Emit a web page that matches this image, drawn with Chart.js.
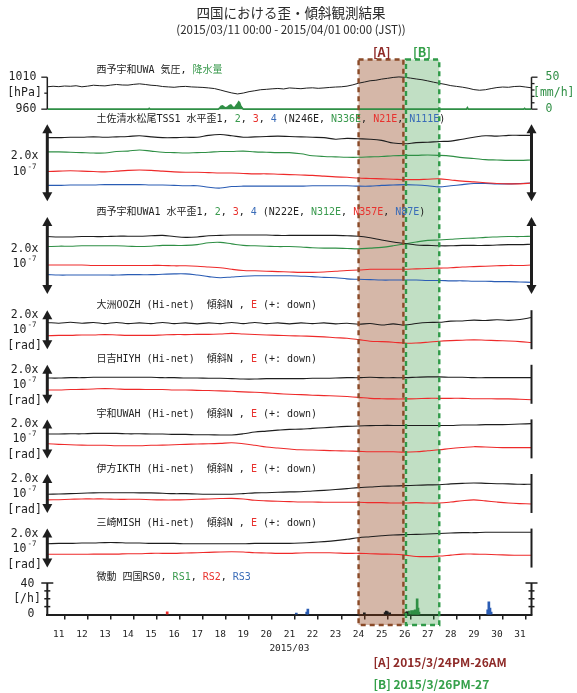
<!DOCTYPE html>
<html lang="ja">
<head>
<meta charset="utf-8">
<title>四国における歪・傾斜観測結果</title>
<script src="https://cdn.jsdelivr.net/npm/chart.js@4.4.1/dist/chart.umd.min.js"></script>
<style>
  html, body { margin: 0; padding: 0; background: #fff; }
  canvas { display: block; }
</style>
</head>
<body>
<canvas id="chart" width="577" height="693"></canvas>
<script>
// ---- colours & fonts ----
const INK = '#1e1e1e', GREEN = '#2f8f45', RED = '#ee2a2a', BLUE = '#2a5cb4';
const LBL_GREEN = '#3a9a4e', LBL_RED = '#e8322e', LBL_BLUE = '#3a6cb8';
const MONO = '"DejaVu Sans Mono", "Noto Sans CJK JP", monospace';
const SANS = '"Noto Sans CJK JP", "Noto Sans", sans-serif';

// ---- time axis (days since 2015/03/11 00:00 JST) ----
const dayLabels = ['11','12','13','14','15','16','17','18','19','20','21',
                   '22','23','24','25','26','27','28','29','30','31'];
const halfDayTimes = Array.from({length: 43}, (_, i) => i * 0.5);
const sixHourTimes = Array.from({length: 85}, (_, i) => i * 0.25);

// ---- 西予宇和UWA 気圧 [hPa], every 6 h ----
const pressureHPa = [
  995.0, 995.8, 995.2, 996.2, 995.8, 996.6, 995.0, 996.0,
  997.4, 996.8, 996.4, 997.6, 998.6, 997.8, 997.6, 998.8,
  999.6, 998.6, 997.4, 996.8, 995.4, 994.8, 994.2, 995.2,
  995.6, 994.8, 994.4, 994.0, 993.2, 992.2, 990.0, 987.6,
  985.4, 983.8, 985.2, 987.4, 988.8, 990.4, 991.0, 991.8,
  992.4, 991.6, 993.2, 992.6, 992.0, 993.0, 993.4, 992.6,
  993.2, 994.0, 994.6, 995.0, 996.0, 998.0, 1000.6, 1002.4,
  1004.4, 1005.2, 1007.0, 1008.2, 1009.6, 1010.4, 1009.8, 1008.6,
  1007.2, 1006.0, 1004.2, 1002.2, 1000.4, 998.8, 996.8, 995.6,
  994.4, 992.8, 990.6, 989.6, 990.4, 992.2, 993.8, 994.6,
  994.2, 995.4, 995.8, 994.6, 993.4
];

// ---- 降水量 [mm/h] ----
const precipTimes = [0, 4.38, 4.42, 4.46, 7.42, 7.48, 7.54, 7.6, 7.66, 7.72, 7.78, 7.84,
  7.9, 7.96, 8.02, 8.08, 8.14, 8.2, 8.26, 8.3, 8.34, 8.38, 8.44, 8.5,
  18.18, 18.22, 18.26, 20.66, 20.7, 20.74, 21];
const precipRates = [0, 0, 1.2, 0, 0, 2.0, 4.5, 5.0, 3.5, 2.0, 2.5, 4.0,
  5.8, 6.5, 4.0, 2.5, 3.0, 6.0, 9.0, 11.5, 10.0, 6.0, 2.5, 0,
  0, 2.5, 0, 0, 1.2, 0, 0];

// ---- 土佐清水松尾TSS1 水平歪 (x1e-7, offset per channel), every 12 h ----
const tss1Ch1 = [1.65,1.65,1.66,1.66,1.67,1.66,1.67,1.68,1.70,1.67, 1.65,1.65,1.66,1.66,1.71,1.73,1.70,1.66,1.67,1.68,
  1.69,1.68,1.67,1.66,1.65,1.61,1.63,1.62,1.61,1.58, 1.51,1.49,1.52,1.53,1.55,1.56,1.61,1.66,1.70,1.69, 1.71,1.71,1.71];
const tss1Ch2 = [1.28,1.28,1.27,1.26,1.25,1.25,1.29,1.30,1.33,1.30, 1.27,1.26,1.25,1.26,1.27,1.29,1.29,1.30,1.28,1.27,
  1.26,1.26,1.23,1.18,1.16,1.15,1.14,1.14,1.15,1.16, 1.18,1.19,1.19,1.20,1.19,1.17,1.13,1.11,1.08,1.07, 1.06,1.06,1.07];
const tss1Ch3 = [0.77,0.78,0.79,0.78,0.77,0.76,0.78,0.80,0.81,0.80, 0.78,0.76,0.75,0.75,0.74,0.73,0.73,0.72,0.71,0.71,
  0.70,0.69,0.68,0.67,0.65,0.63,0.62,0.60,0.59,0.58, 0.57,0.56,0.56,0.57,0.58,0.55,0.52,0.50,0.48,0.46, 0.45,0.45,0.47];
const tss1Ch4 = [0.41,0.41,0.42,0.42,0.42,0.43,0.43,0.43,0.43,0.42, 0.42,0.41,0.40,0.40,0.36,0.34,0.38,0.39,0.39,0.39,
  0.39,0.39,0.39,0.40,0.40,0.40,0.40,0.39,0.39,0.41, 0.42,0.43,0.42,0.40,0.37,0.40,0.43,0.46,0.46,0.45, 0.45,0.46,0.47];

// ---- 西予宇和UWA1 水平歪 (x1e-7) ----
const uwa1Ch1 = [1.49,1.48,1.48,1.49,1.49,1.49,1.50,1.50,1.50,1.51, 1.52,1.49,1.47,1.48,1.51,1.52,1.53,1.53,1.53,1.53,
  1.52,1.52,1.52,1.52,1.52,1.52,1.51,1.50,1.46,1.40, 1.35,1.31,1.27,1.26,1.25,1.25,1.26,1.26,1.26,1.27, 1.28,1.28,1.29];
const uwa1Ch2 = [1.23,1.24,1.24,1.25,1.25,1.25,1.25,1.24,1.23,1.24, 1.26,1.26,1.26,1.28,1.33,1.34,1.30,1.26,1.25,1.24,
  1.23,1.23,1.22,1.20,1.19,1.19,1.18,1.17,1.19,1.21, 1.25,1.30,1.35,1.39,1.40,1.42,1.44,1.45,1.47,1.48, 1.49,1.49,1.50];
const uwa1Ch3 = [0.75,0.75,0.75,0.75,0.74,0.74,0.74,0.74,0.74,0.74, 0.74,0.73,0.73,0.72,0.70,0.68,0.64,0.61,0.60,0.59,
  0.58,0.57,0.56,0.56,0.57,0.59,0.61,0.62,0.64,0.64, 0.64,0.64,0.65,0.66,0.67,0.68,0.70,0.71,0.72,0.73, 0.74,0.74,0.75];
const uwa1Ch4 = [0.50,0.49,0.49,0.49,0.49,0.49,0.49,0.50,0.50,0.50, 0.51,0.52,0.52,0.49,0.45,0.42,0.44,0.46,0.47,0.47,
  0.47,0.47,0.46,0.45,0.43,0.42,0.39,0.38,0.37,0.36, 0.36,0.36,0.36,0.35,0.35,0.34,0.34,0.33,0.33,0.32, 0.32,0.31,0.30];

// ---- Hi-net 傾斜 N / E (x1e-7 rad) ----
const oozhN = [1.37,1.33,1.38,1.33,1.37,1.31,1.37,1.31,1.35,1.31, 1.37,1.31,1.35,1.30,1.35,1.31,1.37,1.31,1.37,1.31,
  1.35,1.30,1.35,1.31,1.35,1.30,1.33,1.28,1.32,1.24, 1.30,1.24,1.32,1.37,1.38,1.44,1.45,1.49,1.47,1.51, 1.48,1.52,1.63];
const oozhE = [0.69,0.71,0.71,0.73,0.73,0.75,0.73,0.71,0.71,0.71, 0.73,0.75,0.75,0.76,0.76,0.78,0.81,0.78,0.75,0.73,
  0.71,0.69,0.68,0.66,0.63,0.59,0.56,0.49,0.41,0.39, 0.36,0.31,0.32,0.36,0.41,0.44,0.46,0.48,0.46,0.44, 0.42,0.39,0.34];
const hiyhN = [1.32,1.32,1.34,1.34,1.36,1.36,1.36,1.36,1.36,1.36, 1.34,1.34,1.32,1.32,1.31,1.31,1.29,1.27,1.27,1.29,
  1.29,1.29,1.29,1.31,1.31,1.32,1.34,1.34,1.36,1.34, 1.34,1.34,1.36,1.38,1.38,1.36,1.36,1.34,1.34,1.34, 1.34,1.34,1.34];
const hiyhE = [0.71,0.71,0.73,0.74,0.76,0.78,0.76,0.74,0.74,0.73, 0.73,0.71,0.71,0.69,0.68,0.66,0.64,0.61,0.59,0.56,
  0.52,0.49,0.47,0.44,0.42,0.40,0.37,0.33,0.28,0.26, 0.25,0.25,0.26,0.28,0.28,0.28,0.28,0.26,0.26,0.25, 0.25,0.23,0.21];
const uwahN = [1.25,1.25,1.26,1.26,1.28,1.28,1.28,1.26,1.26,1.25, 1.25,1.23,1.23,1.21,1.21,1.20,1.20,1.26,1.35,1.40,
  1.45,1.49,1.50,1.54,1.57,1.61,1.64,1.66,1.68,1.69, 1.69,1.69,1.69,1.69,1.69,1.69,1.71,1.71,1.73,1.73, 1.74,1.76,1.78];
const uwahE = [0.75,0.72,0.70,0.68,0.67,0.67,0.65,0.65,0.65,0.67, 0.68,0.70,0.72,0.74,0.75,0.77,0.80,0.75,0.67,0.58,
  0.53,0.48,0.44,0.43,0.41,0.39,0.38,0.36,0.34,0.34, 0.34,0.32,0.34,0.39,0.44,0.51,0.56,0.60,0.58,0.56, 0.55,0.55,0.55];
const ikthN = [0.96,0.97,0.99,1.01,1.03,1.04,1.04,1.04,1.03,1.03, 1.01,0.99,0.99,0.97,0.96,0.96,0.96,0.99,1.03,1.04,
  1.06,1.08,1.09,1.13,1.16,1.20,1.25,1.30,1.33,1.37, 1.38,1.40,1.42,1.44,1.45,1.49,1.52,1.54,1.52,1.50, 1.49,1.47,1.47];
const ikthE = [0.67,0.68,0.70,0.72,0.72,0.72,0.70,0.70,0.70,0.68, 0.67,0.67,0.68,0.70,0.72,0.74,0.75,0.72,0.65,0.62,
  0.60,0.58,0.56,0.56,0.55,0.55,0.55,0.55,0.53,0.53, 0.51,0.51,0.53,0.51,0.51,0.56,0.63,0.67,0.62,0.56, 0.51,0.48,0.46];
const mishN = [1.22,1.24,1.24,1.26,1.26,1.28,1.28,1.26,1.26,1.24, 1.24,1.24,1.22,1.22,1.22,1.22,1.22,1.22,1.24,1.24,
  1.24,1.24,1.26,1.29,1.33,1.38,1.45,1.53,1.58,1.63, 1.67,1.69,1.70,1.72,1.75,1.77,1.79,1.79,1.81,1.81, 1.81,1.81,1.81];
const mishE = [0.68,0.68,0.68,0.68,0.69,0.69,0.69,0.71,0.71,0.73, 0.73,0.73,0.75,0.76,0.78,0.80,0.81,0.80,0.76,0.75,
  0.73,0.73,0.75,0.76,0.76,0.75,0.73,0.73,0.71,0.69, 0.68,0.64,0.57,0.56,0.59,0.64,0.69,0.69,0.68,0.66, 0.64,0.63,0.63];

// ---- 微動 四国 [/h] ----
const rs0Times = [13.75, 14.65, 14.7, 14.75, 14.85, 15.55, 15.6];
const rs0Rates = [2, 2.5, 4.5, 3.5, 2, 2, 3.5];
const rs1Times = [15.5, 15.6, 15.7, 15.8, 15.85, 15.9, 15.95, 16.0, 16.04, 16.08, 16.12];
const rs1Rates = [2.5, 3.5, 4.5, 5, 3.5, 5, 6, 5, 20, 8, 3];
const rs2Times = [5.2];
const rs2Rates = [3.5];
const rs3Times = [10.8, 11.25, 11.3, 19.1, 19.15, 19.2, 19.25];
const rs3Rates = [1.7, 3, 6.8, 6, 16, 8, 3];

// ---- highlighted periods ----
const periodStart = [13.5, 15.5];
const periodEnd = [15.5, 17];
const periodTags = ['[A]', '[B]'];
const periodLegend = ['[A] 2015/3/24PM-26AM', '[B] 2015/3/26PM-27'];
const periodFill = ['rgba(140,60,20,0.37)', 'rgba(50,150,60,0.30)'];
const periodLine = ['#8a4a28', '#2f9a48'];
const periodText = ['#8e2a28', '#35a04a'];

// ---- panel descriptions ----
const tiltStations = [
  ['yT1', '大洲OOZH', oozhN, oozhE],
  ['yT2', '日吉HIYH', hiyhN, hiyhE],
  ['yT3', '宇和UWAH', uwahN, uwahE],
  ['yT4', '伊方IKTH', ikthN, ikthE],
  ['yT5', '三崎MISH', mishN, mishE]
];

const pts = (xs, ys) => ys.map((y, i) => ({x: xs[i], y}));
const line = (label, xs, ys, color, axis, extra) => Object.assign({
  type: 'line', label, data: pts(xs, ys), yAxisID: axis, borderColor: color,
  borderWidth: 1.1, pointRadius: 0, tension: 0.35, fill: false
}, extra || {});
const bars = (label, xs, ys, color) => ({
  type: 'bar', label, data: pts(xs, ys), yAxisID: 'yR', backgroundColor: color,
  barThickness: 2, grouped: false, borderWidth: 0
});

const datasets = [
  line('気圧', sixHourTimes, pressureHPa, INK, 'yP', {tension: 0, borderWidth: 1}),
  line('降水量', precipTimes, precipRates, GREEN, 'yRain', {tension: 0, borderWidth: 1.6, fill: 'origin', backgroundColor: GREEN}),
  line('TSS1-1', halfDayTimes, tss1Ch1, INK, 'yS1'),
  line('TSS1-2', halfDayTimes, tss1Ch2, GREEN, 'yS1'),
  line('TSS1-3', halfDayTimes, tss1Ch3, RED, 'yS1'),
  line('TSS1-4', halfDayTimes, tss1Ch4, BLUE, 'yS1'),
  line('UWA1-1', halfDayTimes, uwa1Ch1, INK, 'yS2'),
  line('UWA1-2', halfDayTimes, uwa1Ch2, GREEN, 'yS2'),
  line('UWA1-3', halfDayTimes, uwa1Ch3, RED, 'yS2'),
  line('UWA1-4', halfDayTimes, uwa1Ch4, BLUE, 'yS2'),
  bars('RS0', rs0Times, rs0Rates, INK),
  bars('RS1', rs1Times, rs1Rates, GREEN),
  bars('RS2', rs2Times, rs2Rates, RED),
  bars('RS3', rs3Times, rs3Rates, BLUE)
];
tiltStations.forEach(([id, name, n, e]) => {
  datasets.push(line(name + ' N', halfDayTimes, n, INK, id));
  datasets.push(line(name + ' E', halfDayTimes, e, RED, id));
});

// stacked panel axes, top to bottom
const panelAxis = (min, max, stackWeight, weight) => ({
  type: 'linear', display: false, position: 'left', stack: 'panels',
  stackWeight, weight, min, max
});
const scales = {
  x: {
    type: 'linear', min: 0, max: 21, position: 'bottom', offset: false,
    afterBuildTicks: s => { s.ticks = halfDayTimes.map(v => ({value: v})); },
    ticks: {
      autoSkip: false, maxRotation: 0, padding: 9, color: INK,
      font: {family: MONO, size: 9.5},
      callback: v => (v % 1 ? dayLabels[Math.floor(v)] : '')
    },
    grid: {
      drawOnChartArea: false, tickLength: 5, lineWidth: 1.5,
      color: c => (c.tick && c.tick.value % 1 === 0 ? INK : 'rgba(0,0,0,0)')
    },
    border: {display: true, color: INK, width: 2},
    title: {display: true, text: '2015/03', color: INK, font: {family: MONO, size: 9.5}, padding: {top: 0, bottom: 2}},
    afterFit: s => { s.height = 42; }
  },
  yP:  panelAxis(957, 1040, 53.1, 9),
  yS1: panelAxis(-0.12, 2.34, 94.7, 8),
  yS2: panelAxis(-0.17, 2.29, 94.7, 7),
  yT1: panelAxis(-0.3, 2.5, 54.6, 6),
  yT2: panelAxis(-0.3, 2.5, 54.6, 5),
  yT3: panelAxis(-0.3, 2.5, 54.6, 4),
  yT4: panelAxis(-0.3, 2.5, 54.6, 3),
  yT5: panelAxis(-0.3, 2.5, 54.6, 2),
  yR:  panelAxis(0, 52.2, 41.1, 1),
  yRain:  {type: 'linear', display: false, position: 'right', stack: 'rside', stackWeight: 53.1, weight: 0, min: -3, max: 80},
  yRfill: {type: 'linear', display: false, position: 'right', stack: 'rside', stackWeight: 503.5, weight: 1, min: 0, max: 1}
};

// ---- drawing helpers ----
function textRun(ctx, parts, x, y, font) {
  ctx.font = font; ctx.textAlign = 'left'; ctx.textBaseline = 'middle';
  for (const [t, c] of parts) { ctx.fillStyle = c; ctx.fillText(t, x, y); x += ctx.measureText(t).width; }
}
function label(ctx, t, x, y, align, color, font) {
  ctx.font = font || `11.5px ${MONO}`; ctx.textAlign = align; ctx.textBaseline = 'middle';
  ctx.fillStyle = color || INK; ctx.fillText(t, x, y);
}
function expLabel(ctx, cx, y) {
  ctx.font = `11.5px ${MONO}`; const w1 = ctx.measureText('10').width;
  ctx.font = `7.5px ${MONO}`; const w2 = ctx.measureText('-7').width;
  const x0 = cx - (w1 + w2 + 1) / 2;
  ctx.textAlign = 'left'; ctx.textBaseline = 'middle'; ctx.fillStyle = INK;
  ctx.font = `11.5px ${MONO}`; ctx.fillText('10', x0, y);
  ctx.font = `7.5px ${MONO}`; ctx.fillText('-7', x0 + w1 + 1, y - 5);
}
function arrow(ctx, x, yTop, yBot) {
  const head = 9, half = 5;
  ctx.save();
  ctx.strokeStyle = INK; ctx.fillStyle = INK; ctx.lineWidth = 3;
  ctx.beginPath(); ctx.moveTo(x, yTop + head - 1); ctx.lineTo(x, yBot - head + 1); ctx.stroke();
  ctx.beginPath(); ctx.moveTo(x, yTop); ctx.lineTo(x - half, yTop + head); ctx.lineTo(x + half, yTop + head); ctx.closePath(); ctx.fill();
  ctx.beginPath(); ctx.moveTo(x, yBot); ctx.lineTo(x - half, yBot - head); ctx.lineTo(x + half, yBot - head); ctx.closePath(); ctx.fill();
  ctx.restore();
}
function vline(ctx, x, y0, y1, w, color) {
  ctx.strokeStyle = color || INK; ctx.lineWidth = w;
  ctx.beginPath(); ctx.moveTo(x, y0); ctx.lineTo(x, y1); ctx.stroke();
}
function hline(ctx, x0, x1, y, w, color) {
  ctx.strokeStyle = color || INK; ctx.lineWidth = w;
  ctx.beginPath(); ctx.moveTo(x0, y); ctx.lineTo(x1, y); ctx.stroke();
}

const TITLE_FONT = `10px ${MONO}`;
const TITLE_X = 96.5;

const panelDecor = {
  id: 'panelDecor',
  beforeDatasetsDraw(chart) {
    const {ctx, scales: {x}} = chart;
    const top = chart.chartArea.top + 1.5, bottom = x.top + 10.5;
    ctx.save();
    periodStart.forEach((s, i) => {
      const x0 = x.getPixelForValue(s), x1 = x.getPixelForValue(periodEnd[i]);
      ctx.fillStyle = periodFill[i];
      ctx.fillRect(x0, top, x1 - x0, bottom - top);
    });
    ctx.restore();
  },
  afterDatasetsDraw(chart) {
    const {ctx, scales: s} = chart;
    const L = chart.chartArea.left, R = chart.chartArea.right;
    const x = s.x;
    ctx.save();

    // dashed outlines of the highlighted periods
    const top = chart.chartArea.top + 1.5, bottom = x.top + 10.5;
    ctx.setLineDash([5, 4]); ctx.lineWidth = 2.4;
    periodStart.forEach((st, i) => {
      let x0 = x.getPixelForValue(st), x1 = x.getPixelForValue(periodEnd[i]);
      if (i === 0) x1 -= 1.3; else x0 += 1.3;
      ctx.strokeStyle = periodLine[i];
      ctx.strokeRect(x0, top, x1 - x0, bottom - top);
    });
    ctx.setLineDash([]);

    // pressure / precipitation panel
    const yP = s.yP, yRain = s.yRain;
    const p1010 = yP.getPixelForValue(1010), p960 = yP.getPixelForValue(960);
    vline(ctx, L, p1010, p960, 1.5);
    [1010, 985, 960].forEach(v => hline(ctx, L - (v === 985 ? 3 : 6), L, yP.getPixelForValue(v), 1.3));
    label(ctx, '1010', L - 11, p1010, 'right');
    label(ctx, '[hPa]', 24.5, yP.getPixelForValue(985), 'center');
    label(ctx, '960', L - 11, p960, 'right');
    const r50 = yRain.getPixelForValue(50), r0 = yRain.getPixelForValue(0);
    vline(ctx, R, r50, r0, 1.5);
    [0, 10, 20, 30, 40, 50].forEach(v => hline(ctx, R, R + (v % 50 === 0 ? 6 : 3), yRain.getPixelForValue(v), 1.3));
    label(ctx, '50', R + 14, r50, 'left', GREEN);
    label(ctx, '[mm/h]', R + 1.5, yRain.getPixelForValue(25), 'left', GREEN);
    label(ctx, '0', R + 14, r0, 'left', GREEN);
    textRun(ctx, [['西予宇和UWA 気圧, ', INK], ['降水量', LBL_GREEN]], TITLE_X, p1010 - 7, TITLE_FONT);

    // strain panels
    const strainTitles = {
      yS1: [['土佐清水松尾TSS1 水平歪1, ', INK], ['2', LBL_GREEN], [', ', INK], ['3', LBL_RED], [', ', INK], ['4', LBL_BLUE],
            [' (N246E, ', INK], ['N336E', LBL_GREEN], [', ', INK], ['N21E', LBL_RED], [', ', INK], ['N111E', LBL_BLUE], [')', INK]],
      yS2: [['西予宇和UWA1 水平歪1, ', INK], ['2', LBL_GREEN], [', ', INK], ['3', LBL_RED], [', ', INK], ['4', LBL_BLUE],
            [' (N222E, ', INK], ['N312E', LBL_GREEN], [', ', INK], ['N357E', LBL_RED], [', ', INK], ['N87E', LBL_BLUE], [')', INK]]
    };
    Object.keys(strainTitles).forEach(id => {
      const a = s[id], t = a.getPixelForValue(2), b = a.getPixelForValue(0), c = (t + b) / 2;
      arrow(ctx, L, t, b);
      arrow(ctx, R, t, b);
      label(ctx, '2.0x', 24.5, c - 6.5, 'center');
      expLabel(ctx, 24.5, c + 9);
      textRun(ctx, strainTitles[id], TITLE_X, t - 5, TITLE_FONT);
    });

    // tilt panels
    tiltStations.forEach(([id, name]) => {
      const a = s[id], t = a.getPixelForValue(2), b = a.getPixelForValue(0);
      arrow(ctx, L, t, b);
      vline(ctx, R, t, b, 2);
      label(ctx, '2.0x', 24.5, t + 5, 'center');
      expLabel(ctx, 24.5, t + 20);
      label(ctx, '[rad]', 24.5, t + 36, 'center');
      textRun(ctx, [[name + ' (Hi-net)  傾斜N , ', INK], ['E', LBL_RED], [' (+: down)', INK]], TITLE_X, t - 5, TITLE_FONT);
    });

    // tremor panel
    const yR = s.yR;
    const t40 = yR.getPixelForValue(40), t0 = yR.getPixelForValue(0);
    [L, R].forEach(px => {
      vline(ctx, px, t40, t0, 2);
      [10, 20, 30, 40].forEach(v => {
        const d = v === 40 ? 6 : 3;
        hline(ctx, px - d, px + d, yR.getPixelForValue(v), 1.5);
      });
    });
    label(ctx, '40', L - 13, t40 + 1.5, 'right');
    label(ctx, '[/h]', 27, yR.getPixelForValue(20), 'center');
    label(ctx, '0', L - 13, t0, 'right');
    textRun(ctx, [['微動 四国RS0, ', INK], ['RS1', LBL_GREEN], [', ', INK], ['RS2', LBL_RED], [', ', INK], ['RS3', LBL_BLUE]],
            TITLE_X, t40 - 6, TITLE_FONT);

    // period tags and legend
    periodStart.forEach((st, i) => {
      const cx = (x.getPixelForValue(st) + x.getPixelForValue(periodEnd[i])) / 2;
      label(ctx, periodTags[i], cx, chart.chartArea.top - 6, 'center', periodText[i], `bold 12.5px ${SANS}`);
      label(ctx, periodLegend[i], x.getPixelForValue(periodStart[0]) + 15, x.bottom + 6 + i * 21.5, 'left', periodText[i], `bold 12px ${SANS}`);
    });

    // chart heading
    label(ctx, '四国における歪・傾斜観測結果', 291, 13, 'center', '#2a2a2a', `13.5px ${SANS}`);
    label(ctx, '(2015/03/11 00:00 - 2015/04/01 00:00 (JST))', 291, 29.5, 'center', '#2a2a2a', `11.5px ${SANS}`);
    ctx.restore();
  }
};

new Chart(document.getElementById('chart'), {
  type: 'line',
  data: {datasets},
  options: {
    responsive: false, animation: false, devicePixelRatio: 1,
    layout: {padding: {left: 47.3, right: 45.5, top: 58, bottom: 36.5}},
    plugins: {legend: {display: false}, tooltip: {enabled: false}, title: {display: false}},
    scales
  },
  plugins: [panelDecor]
});
</script>
</body>
</html>
